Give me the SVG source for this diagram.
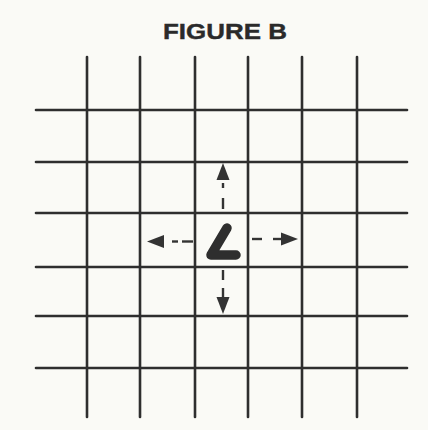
<svg xmlns="http://www.w3.org/2000/svg" width="428" height="430" viewBox="0 0 428 430">
<style>
.g{stroke:#2e2e2e;stroke-width:2.6;fill:none;stroke-linecap:round}
.d{stroke:#333;stroke-width:2.4;fill:none}
.h{fill:#333}
.t{font-family:"Liberation Sans",Arial,sans-serif;font-weight:bold;font-size:22px;fill:#2a2a2a;stroke:#2a2a2a;stroke-width:0.4}
</style>
<rect width="428" height="430" fill="#fafaf6"/>
<text class="t" transform="translate(163,38.5) scale(1.18,1)" x="0" y="0" textLength="105" lengthAdjust="spacingAndGlyphs">FIGURE B</text>
<g id="grid" class="g">
<line x1="87" y1="57" x2="87" y2="417"/>
<line x1="140" y1="57" x2="140" y2="417"/>
<line x1="195" y1="57" x2="195" y2="417"/>
<line x1="248" y1="57" x2="248" y2="417"/>
<line x1="302" y1="57" x2="302" y2="417"/>
<line x1="357" y1="57" x2="357" y2="417"/>
<line x1="36" y1="110" x2="407" y2="110"/>
<line x1="36" y1="162" x2="407" y2="162"/>
<line x1="36" y1="213" x2="407" y2="213"/>
<line x1="36" y1="267" x2="407" y2="267"/>
<line x1="36" y1="316" x2="407" y2="316"/>
<line x1="36" y1="368" x2="407" y2="368"/>
</g>
<g id="L">
<path d="M227,228 L211,255 L236,255" stroke="#2e2e2e" stroke-width="9.5" fill="none" stroke-linecap="round" stroke-linejoin="round"/>
</g>
<g id="connectors">
<g id="up">
<line class="d" x1="223" y1="183" x2="223" y2="188"/>
<line class="d" x1="223" y1="198" x2="223" y2="209"/>
<polygon class="h" points="223,163 216.5,180 229.5,180"/>
</g>
<g id="down">
<line class="d" x1="223" y1="270" x2="223" y2="280"/>
<line class="d" x1="223" y1="288" x2="223" y2="297"/>
<polygon class="h" points="223,314 216.5,297 229.5,297"/>
</g>
<g id="left">
<line class="d" x1="172" y1="241.5" x2="178" y2="241.5"/>
<line class="d" x1="182" y1="241.5" x2="193" y2="241.5"/>
<polygon class="h" points="147,241.5 164,235 164,248"/>
</g>
<g id="right">
<line class="d" x1="252" y1="239" x2="262" y2="239"/>
<line class="d" x1="273" y1="239" x2="282" y2="239"/>
<polygon class="h" points="298,239 281,232.5 281,245.5"/>
</g>
</g>
</svg>
